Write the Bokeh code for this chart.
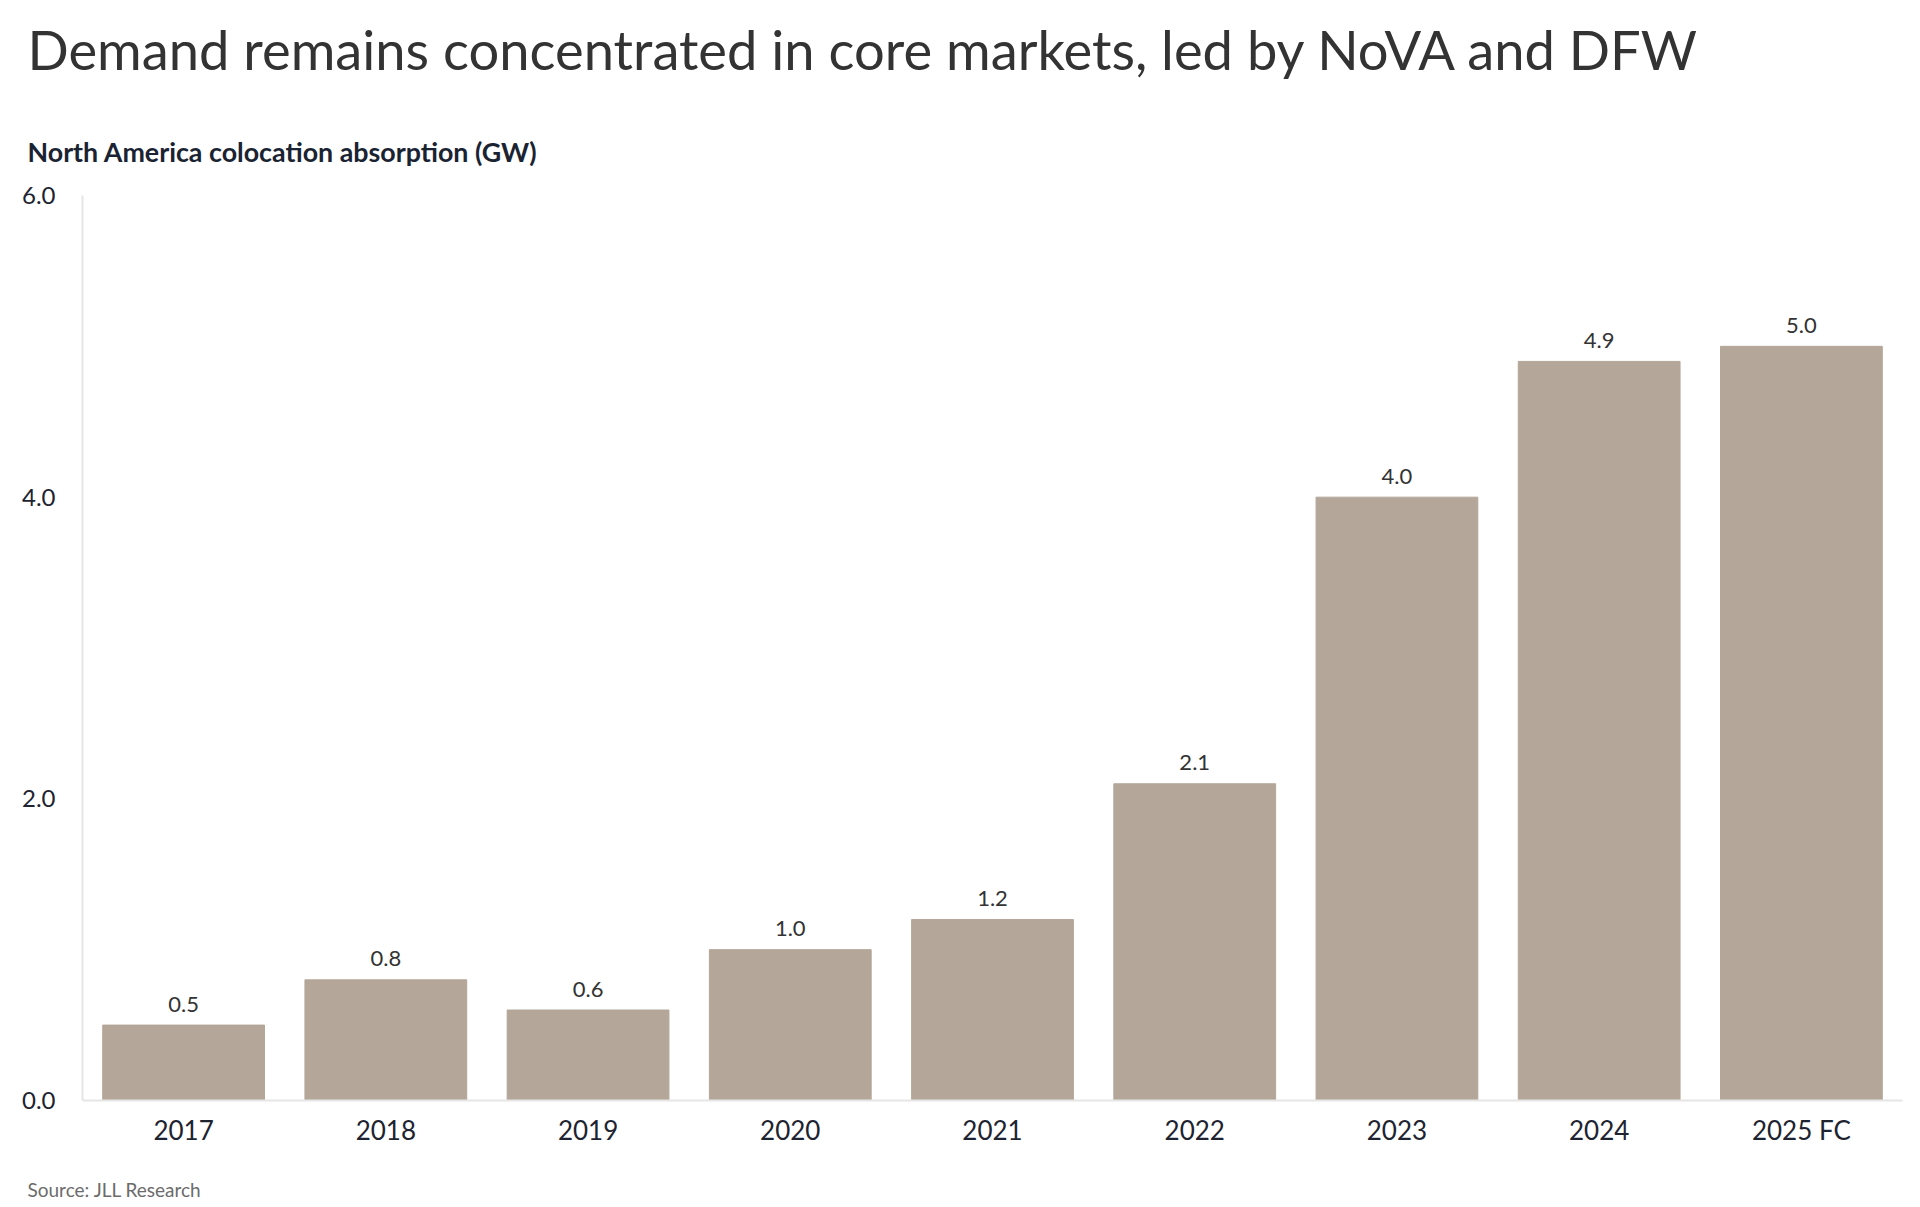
from bokeh.plotting import figure
from bokeh.models import ColumnDataSource, FixedTicker, Label, CustomJSTickFormatter, Range1d
from bokeh.core.properties import value
from bokeh.embed import file_html
from bokeh.resources import INLINE

categories = ["2017", "2018", "2019", "2020", "2021", "2022", "2023", "2024", "2025 FC"]
absorption = [0.5, 0.8, 0.6, 1.0, 1.2, 2.1, 4.0, 4.9, 5.0]
value_labels = ["0.5", "0.8", "0.6", "1.0", "1.2", "2.1", "4.0", "4.9", "5.0"]
y_ticks = [0, 2, 4, 6]
y_max = 6

FONT = "Lato"
BAR = "#b4a698"

# page geometry (pixels)
W, H = 1920, 1207
PLOT_L, PLOT_R = 82, 1902      # x-axis extent
PLOT_T, PLOT_B = 195, 1100     # y = 6 .. y = 0

n = len(categories)
px_per_cat = (PLOT_R - PLOT_L) / n
px_per_unit = (PLOT_B - PLOT_T) / y_max
x_start = -0.5 - PLOT_L / px_per_cat
x_end = x_start + W / px_per_cat
y_start = -(H - PLOT_B) / px_per_unit
y_end = y_max + PLOT_T / px_per_unit

xs = list(range(n))
src = ColumnDataSource(dict(x=xs, val=absorption, lab=value_labels))

p = figure(width=W, height=H, x_range=Range1d(x_start, x_end), y_range=Range1d(y_start, y_end),
           output_backend="svg", toolbar_location=None, min_border=0)
p.outline_line_color = None
p.grid.grid_line_color = None
p.background_fill_color = "white"
p.border_fill_color = "white"

p.vbar(x="x", top="val", width=0.8, source=src, fill_color=BAR, line_color=BAR)
p.text(x="x", y="val", text="lab", source=src, text_align="center", text_baseline="middle",
       y_offset=-21, text_font=value(FONT), text_font_size="22px", text_color="#333333")

# axes placed at fixed data locations
p.xaxis.fixed_location = 0
p.xaxis.bounds = (-0.5, n - 0.5)
p.xaxis.ticker = FixedTicker(ticks=xs)
p.xaxis.major_label_overrides = {i: c for i, c in enumerate(categories)}
p.yaxis.fixed_location = -0.5
p.yaxis.bounds = (0, y_max)
p.yaxis.ticker = FixedTicker(ticks=y_ticks)
p.yaxis.formatter = CustomJSTickFormatter(code="return tick.toFixed(1);")
for ax in (p.xaxis[0], p.yaxis[0]):
    ax.axis_line_color = "#e6e6e6"
    ax.axis_line_width = 2
    ax.major_tick_line_color = None
    ax.minor_tick_line_color = None
    ax.major_label_text_font = FONT
    ax.major_label_text_color = "#1d2330"
p.xaxis.major_label_text_font_size = "26px"
p.yaxis.major_label_text_font_size = "24px"
p.yaxis.major_label_standoff = 21
p.xaxis.major_label_standoff = 7

# texts (screen units from bottom-left of the plot area, which is the full canvas)
p.add_layout(Label(x=27, y=H - 71 + 23, x_units="screen", y_units="screen",
                   text="Demand remains concentrated in core markets, led by NoVA and DFW",
                   text_font=FONT, text_font_size="54.3px", text_color="#333333",
                   text_baseline="alphabetic"))
p.add_layout(Label(x=27, y=H - 162 + 11, x_units="screen", y_units="screen",
                   text="North America colocation absorption (GW)",
                   text_font=FONT, text_font_size="26.8px", text_font_style="bold",
                   text_color="#1a2332", text_baseline="alphabetic"))
p.add_layout(Label(x=27, y=H - 1197 + 8, x_units="screen", y_units="screen",
                   text="Source: JLL Research",
                   text_font=FONT, text_font_size="19px", text_color="#6b6b6b",
                   text_baseline="alphabetic"))

open("out.html", "w").write(file_html(p, INLINE))
